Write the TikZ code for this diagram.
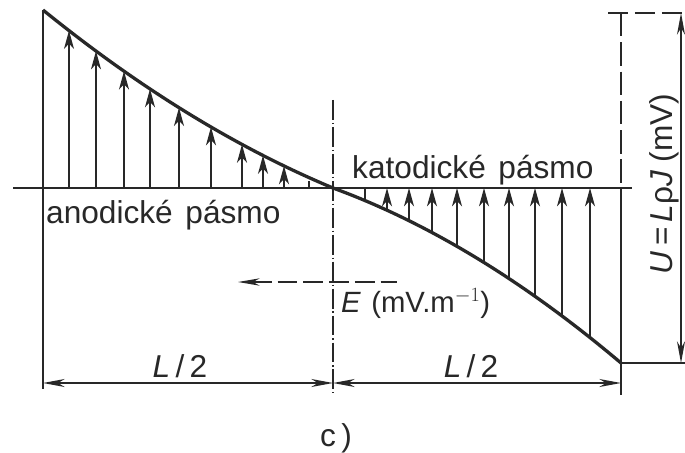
\documentclass[tikz,border=0pt]{standalone}
\usepackage{fontspec}
\setmainfont{Liberation Sans}
\usetikzlibrary{arrows.meta}
\definecolor{ink}{RGB}{40,40,40}
\begin{document}
\begin{tikzpicture}[x=0.03cm,y=-0.03cm,
  thinline/.style={line width=1.3pt, draw=ink},
  curveline/.style={line width=2.8pt, draw=ink},
  fieldarrow/.style={thinline, -{Stealth[length=5.5mm,width=3mm,inset=1.6mm]}},
  dimtip/.tip={Stealth[length=6.5mm,width=2.4mm,inset=2mm]},
  dimarrow/.style={thinline, dimtip-dimtip},
  lbl/.style={font=\fontsize{27}{32}\selectfont, text=ink, inner sep=0pt},
]
\useasboundingbox (0,0) rectangle (685,452);
\fill[white] (0,0) rectangle (685,452);
% key points
\coordinate (A) at (43,10);
\coordinate (O) at (333,188);
\coordinate (B) at (621,363);
\coordinate (axL) at (13,188);
\coordinate (axR) at (632,188);
\coordinate (lb) at (43,389);
\coordinate (ct) at (333,100);
\coordinate (cb) at (333,393);
\coordinate (rt) at (621,13);
\coordinate (rm) at (621,188);
\coordinate (rb) at (621,395);
\coordinate (tl) at (608,13);
\coordinate (tr) at (685,13);
\coordinate (br) at (685,363);
\coordinate (dt) at (681,13);
\coordinate (db) at (681,363);
\coordinate (d1) at (43,383);
\coordinate (d2) at (333,383);
\coordinate (d3) at (621,383);
\coordinate (e1) at (397,282);
\coordinate (e2) at (238,282);
% frame lines
\draw[thinline] (axL) -- (axR);
\draw[thinline] (A) -- (lb);
\draw[thinline, dash pattern=on 17pt off 2.5pt on 1pt off 2.5pt] (ct) -- (cb);
\draw[thinline, dash pattern=on 20pt off 5pt] (rt) -- (rm);
\draw[thinline] (rm) -- (rb);
\draw[thinline, dash pattern=on 17pt off 6pt] (tl) -- (tr);
\draw[thinline] (B) -- (br);
% field arrows, anodic zone
\foreach \x in {69,96,124,150,179,211,242,263,284}{
  \pgfmathsetmacro{\t}{(\x-43)/290}
  \pgfmathsetmacro{\yy}{10+178*(1.32*\t-0.32*\t*\t)}
  \coordinate (la\x) at (\x,188);
  \coordinate (lt\x) at (\x,\yy);
  \draw[fieldarrow] (la\x) -- (lt\x);
}
\coordinate (la309) at (309,188);
\coordinate (lt309) at (309,180.5);
\draw[thinline] (la309) -- (lt309);
% field arrows, cathodic zone
\coordinate (ra365) at (365,188);
\coordinate (rt365) at (365,198.5);
\draw[thinline] (rt365) -- (ra365);
\foreach \x in {387,409,432,457,484,509,535,562,590}{
  \pgfmathsetmacro{\t}{(\x-333)/287}
  \pgfmathsetmacro{\yy}{188+175*(0.6*\t+0.4*\t*\t)}
  \coordinate (ra\x) at (\x,188);
  \coordinate (rc\x) at (\x,\yy);
  \draw[fieldarrow] (rc\x) -- (ra\x);
}
% potential curve
\draw[curveline] (A) .. controls (139.67,88.32) and (236.33,147.65) .. (O)
  .. controls (428.67,223) and (524.33,281.33) .. (B);
% dimensions
\draw[dimarrow] (dt) -- (db);
\draw[dimarrow] (d1) -- (d2);
\draw[dimarrow] (d2) -- (d3);
% field direction
\draw[thinline, dash pattern=on 17pt off 5pt, {Stealth[length=6.5mm,width=2.2mm,inset=2mm]}-] (e2) -- (e1);
% labels
\node[lbl, anchor=base west] (anod) at (46,223) {anodické\hspace{0.4em}pásmo};
\node[lbl, anchor=base west] (katod) at (352,178) {katodické\hspace{0.4em}pásmo};
\node[lbl, anchor=base] (half1) at (180,377) {\textit{L}\,/\,2};
\node[lbl, anchor=base] (half2) at (471,377) {\textit{L}\,/\,2};
\node[lbl, anchor=base west, font=\fontsize{25}{30}\selectfont] (field) at (341,312) {\textit{E}\hspace{0.35em}(mV.m$^{-1}$)};
\node[lbl, rotate=90] (volt) at (664,184) {\textit{U}\,=\,\textit{L}ρ\textit{J}\hspace{0.25em}(mV)};
\node[lbl] (cap) at (336,438) {c\,)};
\end{tikzpicture}
\end{document}
